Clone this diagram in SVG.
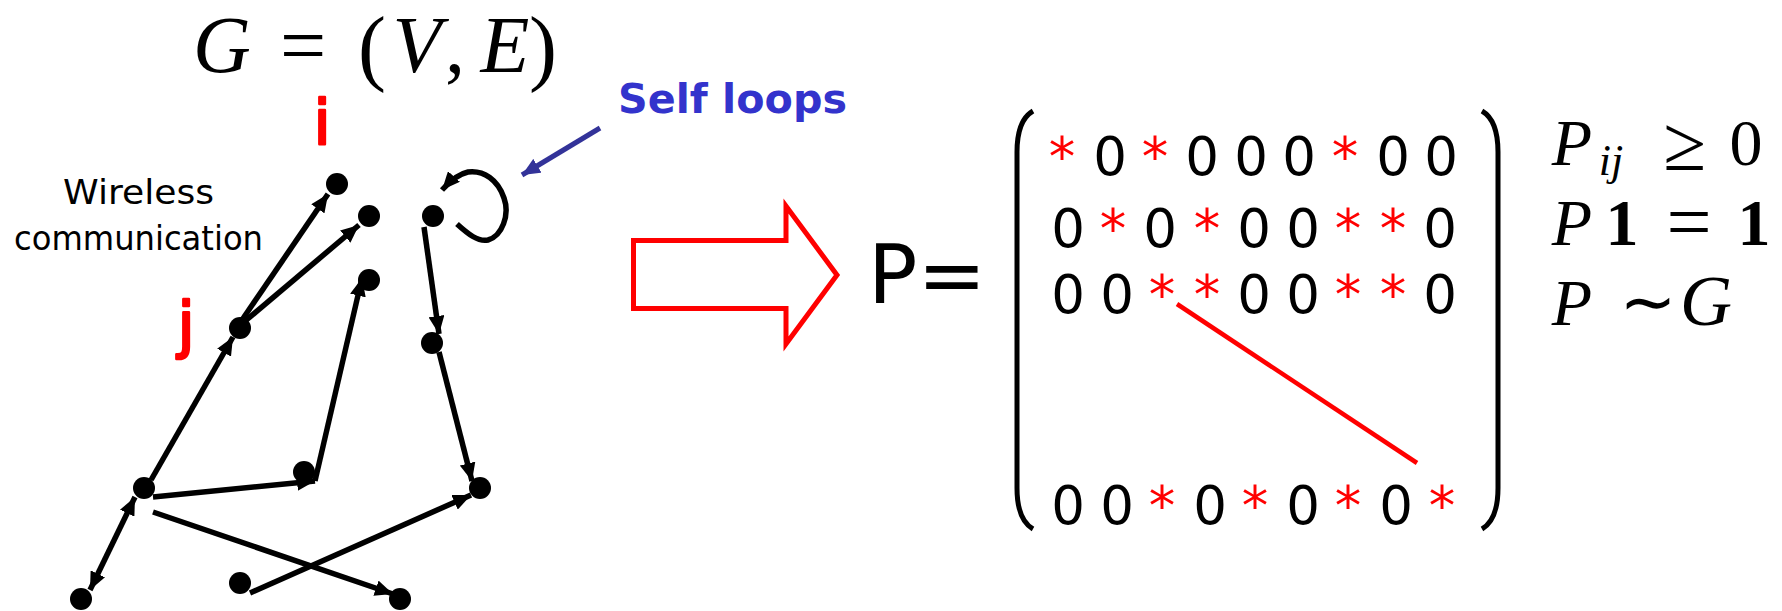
<svg xmlns="http://www.w3.org/2000/svg" width="1782" height="611" viewBox="0 0 1782 611">
<style>
.node{fill:#000}
.edge{fill:none;stroke:#000;stroke-width:5.5;stroke-linecap:butt}
.math{font-family:"Liberation Serif","DejaVu Serif",serif;fill:#000}
.it{font-style:italic}
.lbl{font-family:"DejaVu Sans","Liberation Sans",sans-serif;fill:#000}
.red{fill:#ff0000}
.ij{font-family:"DejaVu Sans","Liberation Sans",sans-serif;font-size:62px;fill:#ff0000;stroke:#ff0000;stroke-width:2.5;stroke-linejoin:round;text-anchor:middle}
.mx{font-family:"DejaVu Sans","Liberation Sans",sans-serif;font-size:53px;fill:#000;text-anchor:middle}
</style>
<defs>
<marker id="ah" markerUnits="userSpaceOnUse" markerWidth="19" markerHeight="16" refX="18" refY="8" orient="auto-start-reverse">
<path d="M0,0 L18,8 L0,16 z" fill="#000"/>
</marker>
<marker id="ahb" markerUnits="userSpaceOnUse" markerWidth="19" markerHeight="16" refX="18" refY="8" orient="auto">
<path d="M0,0 L18,8 L0,16 z" fill="#333399"/>
</marker>
</defs>
<rect width="1782" height="611" fill="#fff"/>

<g id="title" class="math" font-size="80" text-anchor="middle">
<text x="222" y="72" class="it">G</text>
<text x="303" y="73" font-size="82">=</text>
<text x="372" y="75" font-size="84">(</text>
<text x="417" y="72" class="it">V</text>
<text x="455" y="72">,</text>
<text x="505" y="72" class="it">E</text>
<text x="543" y="75" font-size="84">)</text>
</g>

<g id="labels">
<text x="322" y="144" class="ij">i</text>
<text x="186" y="346" class="ij">j</text>
<text x="63" y="204" class="lbl" font-size="34" textLength="151" lengthAdjust="spacingAndGlyphs">Wireless</text>
<text x="14" y="250" class="lbl" font-size="34" textLength="249" lengthAdjust="spacingAndGlyphs">communication</text>
<text x="618" y="113" class="lbl" font-size="41" font-weight="bold" style="fill:#3333cc" textLength="229" lengthAdjust="spacingAndGlyphs">Self loops</text>
</g>

<g id="connectors">
<line class="edge" x1="242" y1="320" x2="328" y2="194" marker-end="url(#ah)"/>
<line class="edge" x1="244" y1="322" x2="359" y2="225" marker-end="url(#ah)"/>
<line class="edge" x1="151" y1="480" x2="233" y2="337" marker-end="url(#ah)"/>
<line class="edge" x1="90" y1="590" x2="135" y2="497" marker-start="url(#ah)" marker-end="url(#ah)"/>
<line class="edge" x1="153" y1="497" x2="315" y2="481" marker-end="url(#ah)"/>
<line class="edge" x1="315" y1="481" x2="362" y2="278" marker-end="url(#ah)"/>
<line class="edge" x1="424" y1="227" x2="439" y2="334" marker-end="url(#ah)"/>
<line class="edge" x1="439" y1="352" x2="472" y2="481" marker-end="url(#ah)"/>
<line class="edge" x1="250" y1="593" x2="471" y2="495" marker-end="url(#ah)"/>
<line class="edge" x1="153" y1="512" x2="393" y2="594" marker-end="url(#ah)"/>
<path class="edge" d="M457,224 C468,234 478,242 488,240 C502,236 510,215 504,198 C498,180 484,170 468,172 C458,174 450,181 442,190" marker-end="url(#ah)"/>
<line x1="600" y1="128" x2="522" y2="175" stroke="#333399" stroke-width="5" marker-end="url(#ahb)"/>
</g>

<g id="node-A"><circle class="node" cx="337" cy="184" r="11"/></g>
<g id="node-B"><circle class="node" cx="369" cy="216" r="11"/></g>
<g id="node-C"><circle class="node" cx="433" cy="216" r="11"/></g>
<g id="node-D"><circle class="node" cx="369" cy="280" r="11"/></g>
<g id="node-J"><circle class="node" cx="240" cy="328" r="11"/></g>
<g id="node-E"><circle class="node" cx="432" cy="343" r="11"/></g>
<g id="node-M"><circle class="node" cx="144" cy="488" r="11"/></g>
<g id="node-N"><circle class="node" cx="304" cy="472" r="11"/></g>
<g id="node-R"><circle class="node" cx="480" cy="488" r="11"/></g>
<g id="node-BL"><circle class="node" cx="81" cy="599" r="11"/></g>
<g id="node-BM"><circle class="node" cx="240" cy="583" r="11"/></g>
<g id="node-BR"><circle class="node" cx="400" cy="599" r="11"/></g>

<g id="big-arrow">
<polygon points="633.5,240.5 786,240.5 786,206 837,275 786,344 786,308.5 633.5,308.5" fill="#fff" stroke="#ff0000" stroke-width="5"/>
</g>

<g id="matrix">
<text x="868" y="303" class="lbl" font-size="82">P=</text>
<path d="M1033,111 C1021,118 1017,132 1017,152 L1017,488 C1017,508 1021,522 1033,529" fill="none" stroke="#000" stroke-width="5"/>
<path d="M1482,111 C1494,118 1498,132 1498,152 L1498,488 C1498,508 1494,522 1482,529" fill="none" stroke="#000" stroke-width="5"/>
<text class="mx" y="175"><tspan x="1062" class="red">*</tspan><tspan x="1110">0</tspan><tspan x="1155" class="red">*</tspan><tspan x="1202">0</tspan><tspan x="1251">0</tspan><tspan x="1299">0</tspan><tspan x="1345" class="red">*</tspan><tspan x="1393">0</tspan><tspan x="1441">0</tspan></text>
<text class="mx" y="247"><tspan x="1068">0</tspan><tspan x="1113" class="red">*</tspan><tspan x="1160">0</tspan><tspan x="1207" class="red">*</tspan><tspan x="1254">0</tspan><tspan x="1303">0</tspan><tspan x="1348" class="red">*</tspan><tspan x="1393" class="red">*</tspan><tspan x="1440">0</tspan></text>
<text class="mx" y="313"><tspan x="1068">0</tspan><tspan x="1117">0</tspan><tspan x="1162" class="red">*</tspan><tspan x="1207" class="red">*</tspan><tspan x="1254">0</tspan><tspan x="1303">0</tspan><tspan x="1348" class="red">*</tspan><tspan x="1393" class="red">*</tspan><tspan x="1440">0</tspan></text>
<text class="mx" y="524"><tspan x="1068">0</tspan><tspan x="1117">0</tspan><tspan x="1162" class="red">*</tspan><tspan x="1210">0</tspan><tspan x="1255" class="red">*</tspan><tspan x="1303">0</tspan><tspan x="1348" class="red">*</tspan><tspan x="1396">0</tspan><tspan x="1442" class="red">*</tspan></text>
<line x1="1177" y1="304" x2="1417" y2="463" stroke="#ff0000" stroke-width="4.5"/>
</g>

<g id="conditions" class="math" font-size="66" text-anchor="middle">
<text x="1572" y="165" class="it">P</text>
<text x="1611" y="175" font-size="44" class="it">ij</text>
<text x="1685" y="170" font-size="78">≥</text>
<text x="1746" y="165">0</text>
<text x="1572" y="245" class="it">P</text>
<text x="1622" y="245" font-weight="bold">1</text>
<text x="1689" y="249" font-size="80">=</text>
<text x="1754" y="245" font-weight="bold">1</text>
<text x="1572" y="325" class="it">P</text>
<text x="1648" y="325" font-family="DejaVu Sans, sans-serif" font-size="68">∼</text>
<text x="1706" y="325" class="it" font-size="72">G</text>
</g>
</svg>
